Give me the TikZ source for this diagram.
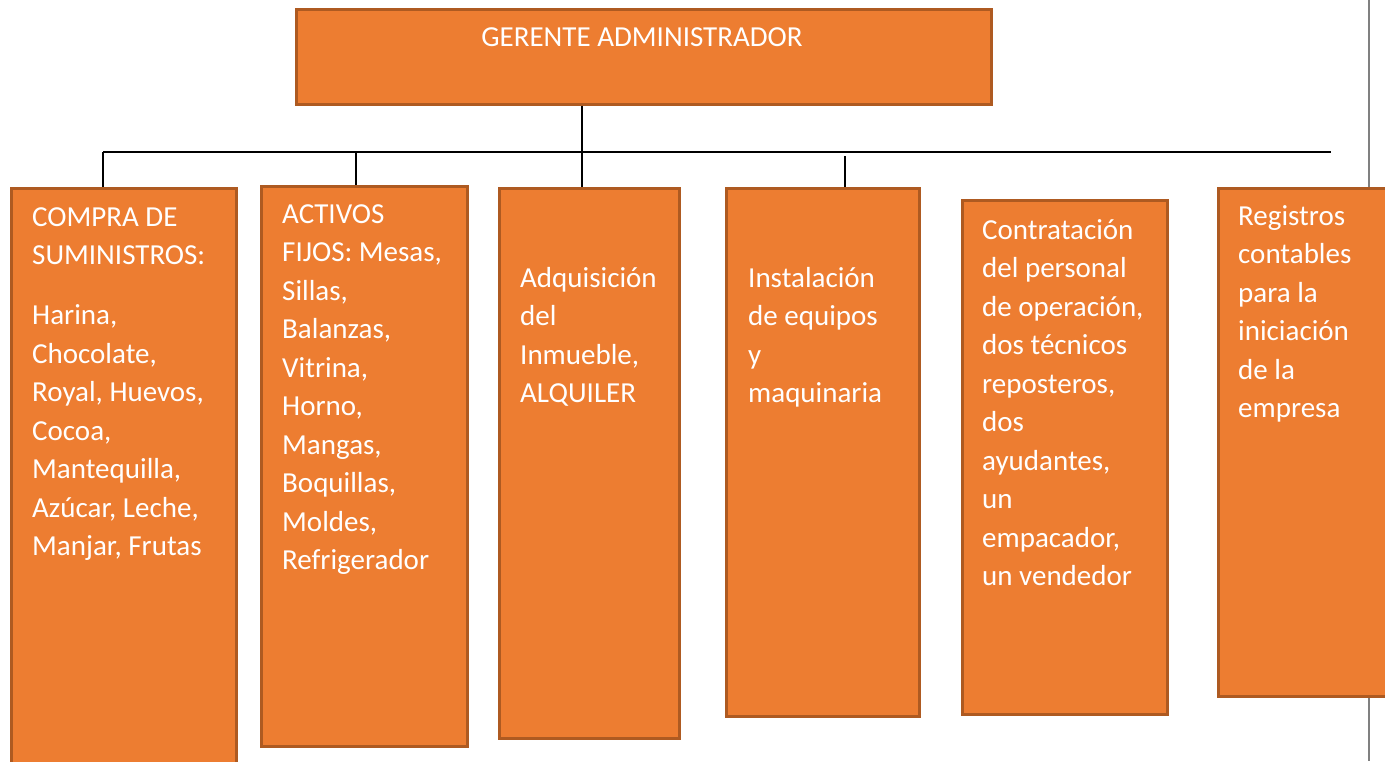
\documentclass[tikz,border=0pt]{standalone}
\usepackage{fontspec}
\setmainfont{Carlito}
\usetikzlibrary{positioning}
\definecolor{naranja}{HTML}{ED7D31}
\definecolor{borde}{HTML}{AE5A21}
\tikzset{main node/.style={rectangle, fill=naranja, draw=borde, line width=2.5pt, anchor=north west, inner sep=0pt},
         texto/.style={anchor=base west, align=left, text=white, inner sep=0pt, font=\fontsize{29}{38.5}\selectfont}}

\begin{document}
\begin{tikzpicture}[x=1pt, y=-1pt]
			\useasboundingbox (0,0) rectangle (1385,761);
			% gray rule at the right margin
			\draw[gray, line width=2pt] (1369,0) -- (1369,761);
			% Define each box
			% The box is placed by its top left corner
			\node[main node, minimum width=695pt, minimum height=95pt] (G) at (295,8) {};
			\node[main node, minimum width=225pt, minimum height=600pt] (compra) at (10,187) {};
			\node[main node, minimum width=206pt, minimum height=560pt] (activos) at (260,185) {};
			\node[main node, minimum width=180pt, minimum height=550pt] (adq) at (498,187) {};
			\node[main node, minimum width=193pt, minimum height=528pt] (inst) at (725,187) {};
			\node[main node, minimum width=205pt, minimum height=514pt] (contr) at (961,199) {};
			\node[main node, minimum width=200pt, minimum height=508pt] (reg) at (1217,187) {};

			% Texts, placed on the baseline of their LAST line
			\node[texto, anchor=base] (tG) at (642,46) {GERENTE ADMINISTRADOR};
			\node[texto] (tcompra) at (32,555.5) {COMPRA DE\\SUMINISTROS:\\[21.5pt]Harina,\\Chocolate,\\Royal, Huevos,\\Cocoa,\\Mantequilla,\\Azúcar, Leche,\\Manjar, Frutas};
			\node[texto] (tactivos) at (282,569.5) {ACTIVOS\\FIJOS: Mesas,\\Sillas,\\Balanzas,\\Vitrina,\\Horno,\\Mangas,\\Boquillas,\\Moldes,\\Refrigerador};
			\node[texto] (tadq) at (520,402.5) {Adquisición\\del\\Inmueble,\\ALQUILER};
			\node[texto] (tinst) at (748,402.5) {Instalación\\de equipos\\y\\maquinaria};
			\node[texto] (tcontr) at (982,585.5) {Contratación\\del personal\\de operación,\\dos técnicos\\reposteros,\\dos\\ayudantes,\\un\\empacador,\\un vendedor};
			\node[texto] (treg) at (1238,417.5) {Registros\\contables\\para la\\iniciación\\de la\\empresa};

			% Points of the bus line
			\coordinate (busL) at (103,152);
			\coordinate (busR) at (1331,152);
			\coordinate (tronco) at (582,152);
			\coordinate (b2) at (356,152);
			\coordinate (b4) at (845,156);

			\path[draw, line width=2pt]
			% Draw the lines between boxes
			(busL) edge node {} (busR)
			(tronco |- G.south) edge node {} (tronco |- adq.north)
			(busL) edge node {} (busL |- compra.north)
			(b2) edge node {} (b2 |- activos.north)
			(b4) edge node {} (b4 |- inst.north);
		\end{tikzpicture}
\end{document}
